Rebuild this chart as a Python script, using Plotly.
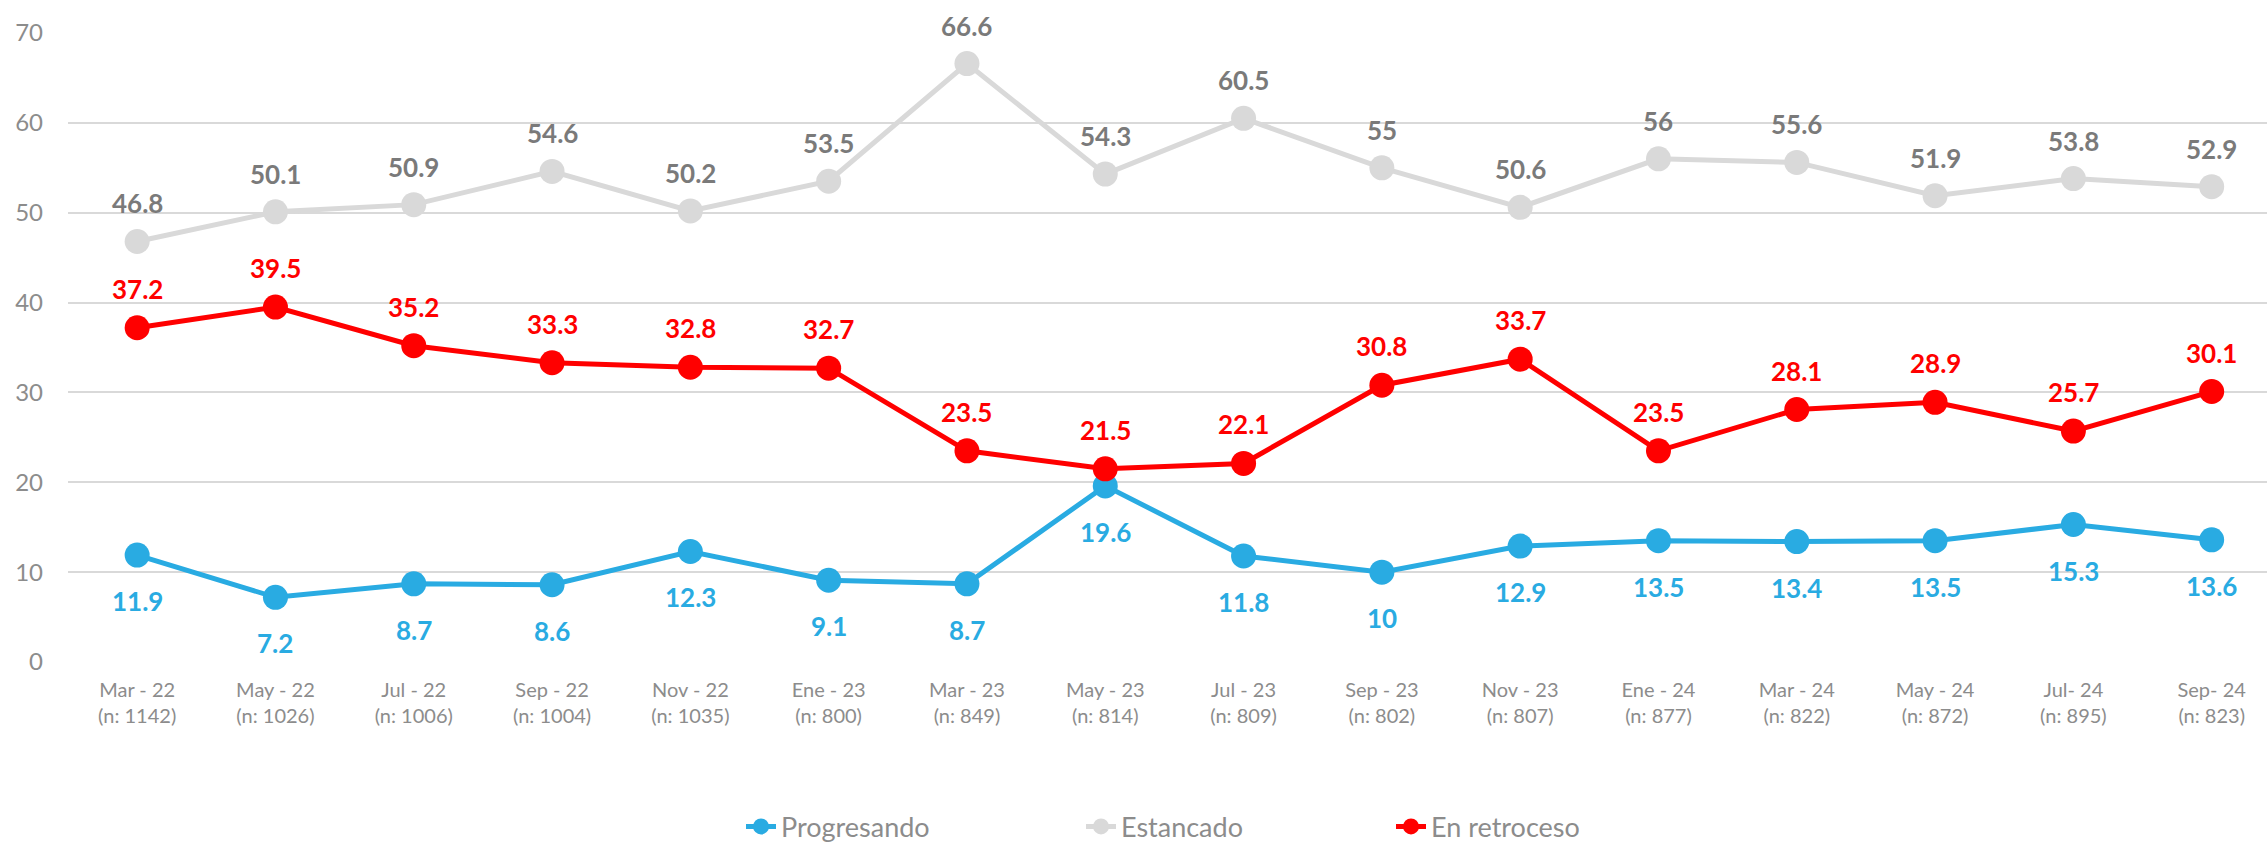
import plotly.graph_objects as go

categories = ["Mar - 22<br>(n: 1142)", "May - 22<br>(n: 1026)", "Jul - 22<br>(n: 1006)",
              "Sep - 22<br>(n: 1004)", "Nov - 22<br>(n: 1035)", "Ene - 23<br>(n: 800)",
              "Mar - 23<br>(n: 849)", "May - 23<br>(n: 814)", "Jul - 23<br>(n: 809)",
              "Sep - 23<br>(n: 802)", "Nov - 23<br>(n: 807)", "Ene - 24<br>(n: 877)",
              "Mar - 24<br>(n: 822)", "May - 24<br>(n: 872)", "Jul- 24<br>(n: 895)",
              "Sep- 24<br>(n: 823)"]
progresando = [11.9, 7.2, 8.7, 8.6, 12.3, 9.1, 8.7, 19.6, 11.8, 10, 12.9, 13.5, 13.4, 13.5, 15.3, 13.6]
estancado = [46.8, 50.1, 50.9, 54.6, 50.2, 53.5, 66.6, 54.3, 60.5, 55, 50.6, 56, 55.6, 51.9, 53.8, 52.9]
retroceso = [37.2, 39.5, 35.2, 33.3, 32.8, 32.7, 23.5, 21.5, 22.1, 30.8, 33.7, 23.5, 28.1, 28.9, 25.7, 30.1]

FONT = "Lato"
BLUE = "#29ABE2"
GRAY = "#D9D9D9"
RED = "#FF0000"
AXIS_TXT = "#8C8C8C"

x = list(range(len(categories)))

L, R, T, B = 68, 0, 33, 182
W, H = 2267, 852
pw = W - L - R
ph = H - T - B

def px_to_paper_x(px):
    return (px - L) / pw

def px_to_paper_y(py):
    return (H - B - py) / ph

fig = go.Figure()
series = [
    ("Progresando", progresando, BLUE, BLUE, -46, "legend", 786),
    ("Estancado", estancado, GRAY, "#7A7A7A", 38, "legend2", 1126),
    ("En retroceso", retroceso, RED, RED, 39, "legend3", 1436),
]
legend_layout = {}
for name, vals, col, tcol, shift, leg, text_px in series:
    fig.add_trace(go.Scatter(
        x=x, y=vals, name=name, mode="lines+markers",
        line=dict(color=col, width=5),
        marker=dict(color=col, size=25),
        hoverinfo="skip", legend=leg,
    ))
    for xi, v in zip(x, vals):
        fig.add_annotation(x=xi, y=v, text=f"{v:g}", showarrow=False, yshift=shift,
                           font=dict(family=FONT, size=26, color=tcol, weight="bold"))
    legend_layout[leg] = dict(
        orientation="h", x=px_to_paper_x(text_px - 45), xanchor="left",
        y=px_to_paper_y(837), yanchor="middle",
        font=dict(family=FONT, size=27, color=AXIS_TXT),
        bgcolor="rgba(0,0,0,0)", borderwidth=0,
    )

fig.update_layout(
    width=W, height=H,
    margin=dict(l=L, r=R, t=T, b=B),
    paper_bgcolor="white", plot_bgcolor="white",
    font=dict(family=FONT, color=AXIS_TXT),
    showlegend=True,
    **legend_layout,
)
fig.update_xaxes(
    tickmode="array", tickvals=x, ticktext=categories,
    range=[-0.5, 15.4], showgrid=False, zeroline=False, showline=False,
    tickfont=dict(family=FONT, size=20, color=AXIS_TXT), ticks="",
    ticklabelstandoff=14,
)
fig.update_yaxes(
    range=[0, 70], dtick=10, showgrid=True, gridcolor="#D9D9D9", gridwidth=1.5,
    zeroline=False, showline=False, ticks="", ticklabelstandoff=24,
    tickfont=dict(family=FONT, size=24, color=AXIS_TXT),
)

fig.write_html("out.html")
